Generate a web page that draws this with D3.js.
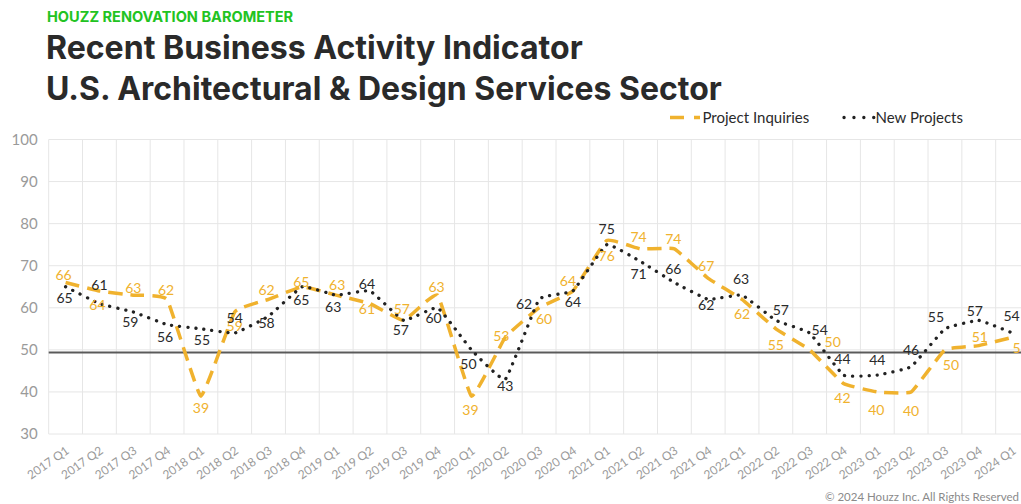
<!DOCTYPE html>
<html>
<head>
<meta charset="utf-8">
<script src="https://cdn.jsdelivr.net/npm/d3@7"></script>
<style>
  html, body { margin: 0; padding: 0; background: #fff; }
  svg { display: block; font-family: Lato, "Open Sans", sans-serif; }
</style>
</head>
<body>
<svg id="chart" width="1021" height="504"></svg>
<script>
// ---- data ----
const quarters = [
  "2017 Q1","2017 Q2","2017 Q3","2017 Q4",
  "2018 Q1","2018 Q2","2018 Q3","2018 Q4",
  "2019 Q1","2019 Q2","2019 Q3","2019 Q4",
  "2020 Q1","2020 Q2","2020 Q3","2020 Q4",
  "2021 Q1","2021 Q2","2021 Q3","2021 Q4",
  "2022 Q1","2022 Q2","2022 Q3","2022 Q4",
  "2023 Q1","2023 Q2","2023 Q3","2023 Q4",
  "2024 Q1"
];
const projectInquiries = [66,64,63,62, 39,59,62,65, 63,61,57,63, 39,53,60,64, 76,74,74,67, 62,55,50,42, 40,40,50,51, 53];
const newProjects      = [65,61,59,56, 55,54,58,65, 63,64,57,60, 50,43,62,64, 75,71,66,62, 63,57,54,44, 44,46,55,57, 54];
const yTicks = [30,40,50,60,70,80,90,100];
const referenceValue = 49.4;

// label placement offsets (label centre relative to point)
const inqLabelOffset = [[-2,-7],[-2,14],[0,-7],[-1,-9],[0,12],[0,14],[-2,-9],[-1,-5],[1,-10],[-3,6],[-2,-11],[-1,-8],[-1,14],[-4,-1],[5,11],[-5,-10],[0,16],[-2,-12],[-1,-10],[-2,-12],[0,15],[0,16],[23,-8],[-1,15],[-1,18],[0,19],[6,15],[1,-9],[8,11]];
const npLabelOffset  = [[-1,11],[0,-18],[-3,10],[-2,12],[1,11],[0,-15],[-2,7],[-1,13],[-3,12],[-3,-7],[-3,10],[-4,10],[-3,14],[0,7],[-15,5],[0,11],[0,-16],[-2,13],[-1,-13],[-2,6],[-1,-16],[5,-10],[10,-3],[-1,-16],[0,-15],[0,-17],[-9,-12],[-4,-9],[-1,-17]];

// ---- styles ----
const ORANGE = "#F0B22E";
const DARK = "#222222";
const GRID = "#e6e6e6";
const TICK = "#9a9a9a";

const svg = d3.select("#chart");

const plot = { left: 48.7, right: 1029.5, top: 139.5, bottom: 434 };

const x = d3.scaleBand().domain(quarters).range([plot.left, plot.right]).padding(0);
const y = d3.scaleLinear().domain([30, 100]).range([plot.bottom, plot.top]);
const cx = q => x(q) + x.bandwidth() / 2;

// header
function fitText(sel, target) {
  const w = sel.node().getComputedTextLength();
  const fs = parseFloat(sel.attr("font-size"));
  if (w > 0) sel.attr("font-size", fs * target / w);
}
svg.append("text").attr("x", 47).attr("y", 21.5)
  .attr("fill", "#22c322").attr("font-weight", 700).attr("font-size", 14.2)
  .attr("font-family", "Inter, Lato, sans-serif")
  .text("HOUZZ RENOVATION BAROMETER")
  .call(s => fitText(s, 246));
svg.append("text").attr("x", 46).attr("y", 58.5)
  .attr("fill", "#2a2a2a").attr("font-weight", 700).attr("font-size", 32)
  .attr("font-family", "Inter, Lato, sans-serif")
  .text("Recent Business Activity Indicator")
  .call(s => fitText(s, 537));
svg.append("text").attr("x", 46).attr("y", 99.5)
  .attr("fill", "#2a2a2a").attr("font-weight", 700).attr("font-size", 32)
  .attr("font-family", "Inter, Lato, sans-serif")
  .text("U.S. Architectural & Design Services Sector")
  .call(s => fitText(s, 676));

// gridlines
const g = svg.append("g");
g.selectAll("line.h").data(yTicks).join("line")
  .attr("x1", plot.left).attr("x2", plot.right)
  .attr("y1", d => y(d)).attr("y2", d => y(d))
  .attr("stroke", GRID).attr("stroke-width", 1);
const bounds = quarters.map(q => x(q)).concat([plot.right]);
g.selectAll("line.v").data(bounds).join("line")
  .attr("x1", d => d).attr("x2", d => d)
  .attr("y1", plot.top).attr("y2", plot.bottom)
  .attr("stroke", GRID).attr("stroke-width", 1);

// y axis labels
const yAxis = d3.axisLeft(y).tickValues(yTicks).tickSize(0).tickPadding(11);
svg.append("g").attr("transform", `translate(${plot.left},0)`).call(yAxis)
  .call(s => s.select(".domain").remove())
  .call(s => s.selectAll("text").attr("fill", TICK).attr("font-size", 15).attr("font-family", "Lato"));

// x axis labels
const xAxis = d3.axisBottom(x).tickSize(0).tickPadding(0);
svg.append("g").attr("transform", `translate(0,${plot.bottom})`).call(xAxis)
  .call(s => s.select(".domain").remove())
  .call(s => s.selectAll("text")
    .attr("fill", TICK).attr("font-size", 12).attr("font-family", "Lato")
    .attr("text-anchor", "end")
    .attr("transform", "translate(2,15) rotate(-35)")
    .attr("dy", "0.35em").attr("y", 0).attr("x", 0));

// reference line
svg.append("line")
  .attr("x1", plot.left).attr("x2", plot.right)
  .attr("y1", y(referenceValue)).attr("y2", y(referenceValue))
  .attr("stroke", "#5a5a5a").attr("stroke-width", 2);

// lines
const line = d3.line().x(d => cx(d.q)).y(d => y(d.v)).curve(d3.curveCardinal.tension(0.7));
const inqData = quarters.map((q, i) => ({ q, v: projectInquiries[i] }));
const npData = quarters.map((q, i) => ({ q, v: newProjects[i] }));

svg.append("path").datum(inqData).attr("d", line)
  .attr("fill", "none").attr("stroke", ORANGE).attr("stroke-width", 3.5)
  .attr("stroke-dasharray", "14 8");
svg.append("path").datum(npData).attr("d", line)
  .attr("fill", "none").attr("stroke", DARK).attr("stroke-width", 3.3)
  .attr("stroke-linecap", "round").attr("stroke-dasharray", "0.1 8");

// data labels
svg.append("g").selectAll("text").data(inqData).join("text")
  .attr("x", (d, i) => cx(d.q) + inqLabelOffset[i][0])
  .attr("y", (d, i) => y(d.v) + inqLabelOffset[i][1])
  .attr("dy", "0.35em").attr("text-anchor", "middle")
  .attr("fill", ORANGE).attr("font-size", 14)
  .text(d => d.v);
svg.append("g").selectAll("text").data(npData).join("text")
  .attr("x", (d, i) => cx(d.q) + npLabelOffset[i][0])
  .attr("y", (d, i) => y(d.v) + npLabelOffset[i][1])
  .attr("dy", "0.35em").attr("text-anchor", "middle")
  .attr("fill", "#2a2a2a").attr("font-size", 14)
  .text(d => d.v);

// legend
const lg = svg.append("g");
lg.append("line").attr("x1", 670).attr("x2", 700).attr("y1", 117.5).attr("y2", 117.5)
  .attr("stroke", ORANGE).attr("stroke-width", 3.5).attr("stroke-dasharray", "14 10");
lg.append("text").attr("x", 702.5).attr("y", 117.5).attr("dy", "0.35em")
  .attr("fill", "#2a2a2a").attr("font-size", 15).text("Project Inquiries");
lg.append("line").attr("x1", 844).attr("x2", 874).attr("y1", 117.5).attr("y2", 117.5)
  .attr("stroke", DARK).attr("stroke-width", 3.3).attr("stroke-linecap", "round")
  .attr("stroke-dasharray", "0.1 9.8");
lg.append("text").attr("x", 875.5).attr("y", 117.5).attr("dy", "0.35em")
  .attr("fill", "#2a2a2a").attr("font-size", 15).text("New Projects");

// footer
svg.append("text").attr("x", 1019).attr("y", 500.5).attr("text-anchor", "end")
  .attr("fill", "#8a8a8a").attr("font-size", 11.5)
  .text("© 2024 Houzz Inc. All Rights Reserved");
</script>
</body>
</html>
